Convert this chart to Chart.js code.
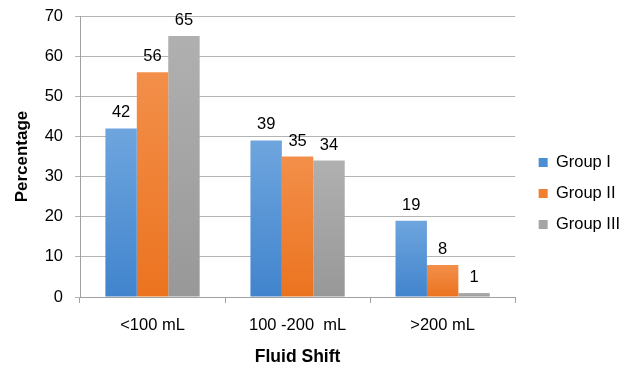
<!DOCTYPE html>
<html>
<head>
<meta charset="utf-8">
<script src="https://cdn.jsdelivr.net/npm/chart.js@4/dist/chart.umd.min.js"></script>
<style>
html,body{margin:0;padding:0;background:#fff;}
#wrap{width:633px;height:371px;position:relative;}
</style>
</head>
<body>
<div id="wrap"><canvas id="c" width="633" height="371"></canvas></div>
<script>
const categories = ["<100 mL", "100 -200  mL", ">200 mL"];
const seriesNames = ["Group I", "Group II", "Group III"];
const groupI = [42, 39, 19];
const groupII = [56, 35, 8];
const groupIII = [65, 34, 1];
const yTicks = [0, 10, 20, 30, 40, 50, 60, 70];

const colorsTop = ["#6ea5de", "#f38f4a", "#b0b0b0"];
const colorsBottom = ["#4184cd", "#eb731f", "#989898"];
const legendColors = ["#4a8ed3", "#f07f30", "#a5a5a5"];
const FONT = '"Liberation Sans", Arial, sans-serif';

function gradFor(i) {
  return function (ctx) {
    const chart = ctx.chart;
    const ys = chart.scales && chart.scales.y;
    if (!ys || ctx.type !== 'data') return legendColors[i];
    const v = ctx.raw;
    const top = ys.getPixelForValue(v);
    const base = ys.getPixelForValue(0);
    if (!isFinite(top) || !isFinite(base) || Math.abs(base - top) < 1) return colorsBottom[i];
    const g = chart.ctx.createLinearGradient(0, top, 0, base);
    g.addColorStop(0, colorsTop[i]);
    g.addColorStop(1, colorsBottom[i]);
    return g;
  };
}

const valueLabels = {
  id: 'valueLabels',
  afterDatasetsDraw(chart) {
    const ctx = chart.ctx;
    ctx.save();
    ctx.font = '16.5px ' + FONT;
    ctx.fillStyle = '#000';
    ctx.textAlign = 'center';
    ctx.textBaseline = 'alphabetic';
    chart.data.datasets.forEach((ds, di) => {
      const meta = chart.getDatasetMeta(di);
      meta.data.forEach((bar, j) => {
        ctx.fillText(String(ds.data[j]), bar.x, bar.y - 11);
      });
    });
    ctx.restore();
  }
};

const allSeries = [groupI, groupII, groupIII];
new Chart(document.getElementById('c'), {
  type: 'bar',
  data: {
    labels: categories,
    datasets: allSeries.map((d, i) => ({
      label: seriesNames[i],
      data: d,
      backgroundColor: gradFor(i),
      borderWidth: 0,
      categoryPercentage: 0.65,
      barPercentage: 1.0,
      yAxisID: 'y'
    }))
  },
  options: {
    responsive: false,
    animation: false,
    devicePixelRatio: 1,
    layout: { padding: { top: 16, right: 4, bottom: 0, left: 0 } },
    plugins: {
      legend: {
        position: 'right',
        labels: {
          boxWidth: 9,
          boxHeight: 9,
          padding: 14.5,
          color: '#000',
          font: { family: FONT, size: 16.5 },
          generateLabels(chart) {
            return chart.data.datasets.map((ds, i) => ({
              text: ds.label,
              fillStyle: legendColors[i],
              strokeStyle: legendColors[i],
              fontColor: '#000',
              lineWidth: 0,
              datasetIndex: i,
              hidden: false
            }));
          }
        }
      },
      tooltip: { enabled: false }
    },
    scales: {
      x: {
        afterFit(s) { s.height = 74; },
        grid: {
          display: true,
          drawOnChartArea: false,
          drawTicks: true,
          tickLength: 6,
          color: '#a0a0a0',
          offset: true
        },
        border: { display: true, color: '#a0a0a0', width: 1 },
        ticks: {
          color: '#000',
          padding: 12.5,
          font: { family: FONT, size: 16.5 }
        },
        title: {
          display: true,
          text: 'Fluid Shift',
          color: '#000',
          padding: { top: 0, bottom: 3 },
          font: { family: FONT, size: 17.5, weight: 'bold' }
        }
      },
      y: {
        min: 0,
        max: 70,
        afterFit(s) { s.width = 80; s.paddingTop = 0; s.paddingBottom = 0; },
        afterBuildTicks(scale) { scale.ticks = yTicks.map(v => ({ value: v })); },
        grid: {
          color: '#b4b4b4',
          tickLength: 5,
          drawTicks: true
        },
        border: { display: true, color: '#a0a0a0', width: 1 },
        ticks: {
          color: '#000',
          padding: 12,
          font: { family: FONT, size: 16.5 }
        },
        title: {
          display: true,
          text: 'Percentage',
          color: '#000',
          padding: { top: 12, bottom: 0 },
          font: { family: FONT, size: 17, weight: 'bold' }
        }
      },
      spacer: {
        type: 'linear',
        position: 'right',
        display: true,
        afterFit(s) { s.width = 9; s.paddingTop = 0; s.paddingBottom = 0; },
        grid: { display: false },
        border: { display: false },
        ticks: { display: false },
        title: { display: false }
      }
    }
  },
  plugins: [valueLabels]
});
</script>
</body>
</html>
